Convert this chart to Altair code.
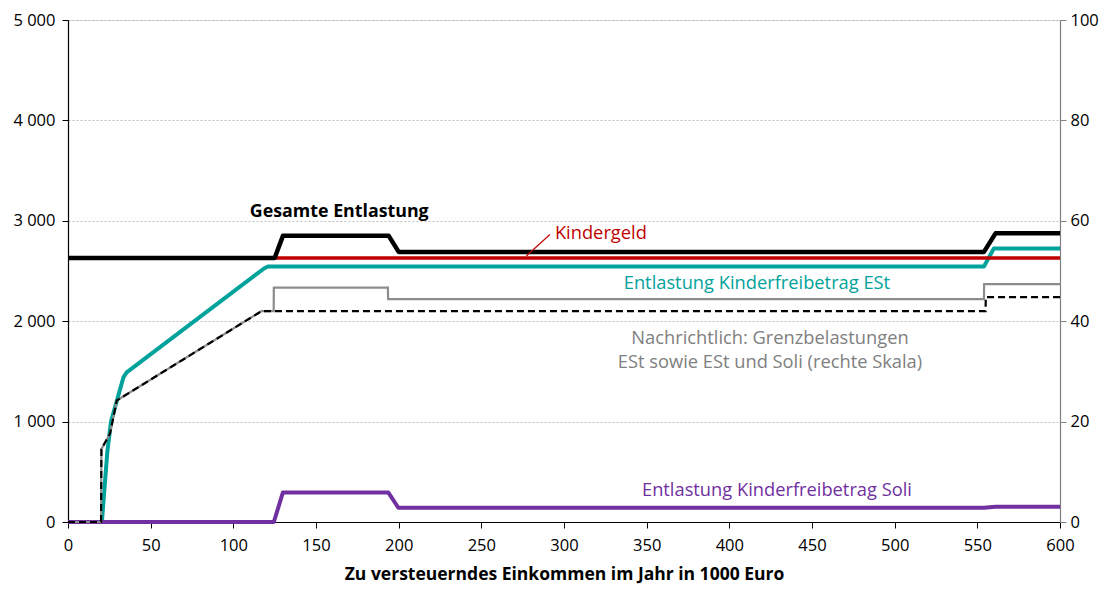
import altair as alt
import pandas as pd

# ---------------- data ----------------
gesamt_x = [0, 125, 130, 194, 200, 554, 561, 600]
gesamt_y = [2630, 2630, 2850, 2850, 2690, 2690, 2875, 2875]

kindergeld_x = [0, 600]
kindergeld_y = [2630, 2630]

est_x = [0, 20.5, 23.8, 26, 33.5, 35.5, 119, 121, 554, 560, 600]
est_y = [0, 0, 700, 1000, 1440, 1490, 2530, 2545, 2545, 2725, 2725]

soli_x = [0, 124.5, 130, 193.7, 199.8, 554, 561, 600]
soli_y = [0, 0, 295, 295, 142, 142, 152, 152]

# marginal rates (right scale, %)
grenz_est_x = [0, 20, 20.2, 25.4, 29.5, 117, 555, 555.1, 600]
grenz_est_y = [0, 0, 14.5, 17.6, 24.2, 42, 42, 44.8, 44.8]

grenz_soli_x = [0, 20, 20.2, 25.4, 29.5, 117, 124.4, 124.5, 193.5, 193.6, 554, 554.1, 600]
grenz_soli_y = [0, 0, 14.5, 17.6, 24.2, 42, 42, 46.7, 46.7, 44.4, 44.4, 47.4, 47.4]

left_ticks = [0, 1000, 2000, 3000, 4000, 5000]
right_ticks = [0, 20, 40, 60, 80, 100]
x_ticks = [0, 50, 100, 150, 200, 250, 300, 350, 400, 450, 500, 550, 600]

FONT = "Open Sans"

def df(xs, ys):
    return pd.DataFrame({"x": xs, "y": ys})

xscale = alt.Scale(domain=[0, 600], nice=False)
lscale = alt.Scale(domain=[0, 5000], nice=False)
rscale = alt.Scale(domain=[0, 100], nice=False)

xaxis = alt.Axis(values=x_ticks, title="Zu versteuerndes Einkommen im Jahr in 1000 Euro",
                 titleFont=FONT, titleFontSize=17.5, titleFontWeight="bold", titleColor="black",
                 titlePadding=12, labelFont=FONT, labelFontSize=16.5, labelColor="black",
                 labelPadding=9, tickSize=6, tickColor="black", domainColor="black",
                 domainWidth=1.2, grid=False, labelFlush=False, labelOverlap=False)
laxis = alt.Axis(values=left_ticks, title=None, labelFont=FONT, labelFontSize=16.5,
                 labelColor="black", labelPadding=7, tickSize=6, tickColor="black",
                 domainColor="black", domainWidth=1.2, grid=True, gridColor="#b0b0b0",
                 gridDash=[2, 2], gridWidth=0.8, labelFlush=False, labelOverlap=False,
                 labelExpr="replace(format(datum.value, ','), ',', ' ')")
raxis = alt.Axis(values=right_ticks, title=None, orient="right", labelFont=FONT,
                 labelFontSize=16.5, labelColor="black", labelPadding=4, tickSize=6,
                 tickColor="#808080", domainColor="#808080", domainWidth=1.2, grid=False,
                 labelFlush=False, labelOverlap=False)

X = lambda: alt.X("x:Q", scale=xscale, axis=xaxis)
YL = lambda: alt.Y("y:Q", scale=lscale, axis=laxis)
YR = lambda: alt.Y("y:Q", scale=rscale, axis=raxis)


def lline(data, color, width):
    return alt.Chart(data).mark_line(color=color, strokeWidth=width, strokeJoin="round").encode(
        x=X(), y=YL())

def rline(data, color, width, dash=None):
    kw = dict(color=color, strokeWidth=width)
    if dash:
        kw["strokeDash"] = dash
    return alt.Chart(data).mark_line(**kw).encode(x=X(), y=YR())

left = alt.layer(
    lline(df(est_x, est_y), "#00A39B", 4),
    lline(df(soli_x, soli_y), "#7030A0", 4),
    lline(df(kindergeld_x, kindergeld_y), "#C00000", 3.5),
    lline(df(gesamt_x, gesamt_y), "#000000", 4.5),
)

right = alt.layer(
    rline(df(grenz_soli_x, grenz_soli_y), "#8c8c8c", 2.2),
    rline(df(grenz_est_x, grenz_est_y), "#000000", 2.2, dash=[7, 4]),
)

# annotations (data coordinates of the left scale)
labels = pd.DataFrame({
    "x": [110, 294.5, 416.7, 424.6, 424.6, 428.8],
    "y": [3085, 2867, 2371, 1825, 1587, 307],
    "text": ["Gesamte Entlastung", "Kindergeld", "Entlastung Kinderfreibetrag ESt",
             "Nachrichtlich: Grenzbelastungen", "ESt sowie ESt und Soli (rechte Skala)",
             "Entlastung Kinderfreibetrag Soli"],
    "color": ["#000000", "#C00000", "#00A39B", "#808080", "#808080", "#7030A0"],
    "align": ["left", "left", "center", "center", "center", "center"],
    "weight": ["bold", "normal", "normal", "normal", "normal", "normal"],
    "size": [17.8, 18.3, 18.3, 18.3, 18.3, 18.3],
})

def txt(row):
    d = labels.iloc[[row]]
    return alt.Chart(d).mark_text(
        font=FONT, fontSize=float(d["size"].iloc[0]), align=d["align"].iloc[0], baseline="middle",
        fontWeight=d["weight"].iloc[0], color=d["color"].iloc[0]
    ).encode(x=X(), y=YL(), text="text:N")

leader = alt.Chart(pd.DataFrame({"x": [277.2], "y": [2649], "x2": [291.5], "y2": [2864]})).mark_rule(
    color="#C00000", strokeWidth=1.2
).encode(x=X(), x2="x2:Q", y=YL(), y2="y2:Q")

left_all = alt.layer(left, leader, *[txt(i) for i in range(len(labels))])

chart = alt.layer(left_all, right).resolve_scale(y="independent").properties(
    width=992, height=502,
    autosize=alt.AutoSizeParams(type="none"),
    padding={"left": 60, "top": 12, "right": 39, "bottom": 64},
).configure_view(stroke="#303030", strokeWidth=1.2).configure(background="white")

chart.save("out.html", embed_options={"renderer": "svg", "actions": False})
